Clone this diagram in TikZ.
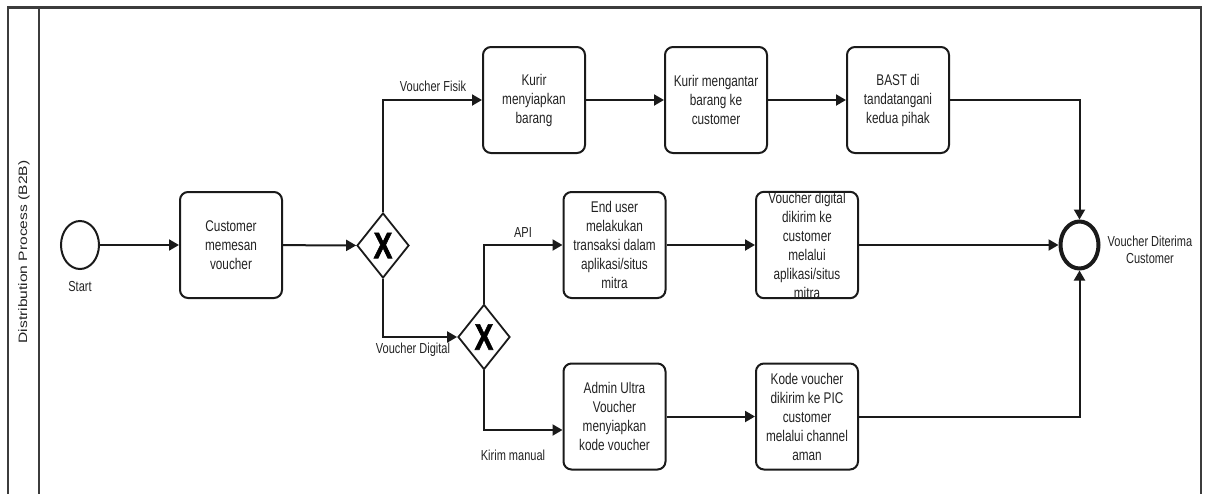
\documentclass[tikz,border=0pt]{standalone}
\usepackage{fontspec}
\setmainfont{Liberation Sans}
\newfontfamily\dfont[FakeStretch=0.76]{Liberation Sans}
\newfontfamily\dfontb[FakeStretch=0.76,FakeBold=1.5]{Liberation Sans Bold}
\usetikzlibrary{shapes.geometric,arrows.meta}
\definecolor{ink}{HTML}{1A1A1A}
\definecolor{txt}{HTML}{222222}
\tikzset{
  task/.style={draw=ink, line width=2pt, rounded corners=8pt, minimum width=102pt, minimum height=106pt, inner sep=0pt, align=center, text=txt, font=\dfont\fontsize{15.5}{19}\selectfont},
  gw/.style={draw=ink, line width=1.8pt, diamond, minimum width=52pt, minimum height=65pt, inner sep=0pt, font=\dfontb\fontsize{37}{37}\selectfont},
  startev/.style={draw=ink, line width=2pt, ellipse, minimum width=38pt, minimum height=48pt, inner sep=0pt},
  endev/.style={draw=ink, line width=4pt, ellipse, minimum width=38pt, minimum height=47pt, inner sep=0pt},
  lbl/.style={text=txt, font=\dfont\fontsize{14.5}{17}\selectfont, inner sep=0pt, align=center},
  arr/.style={draw=ink, line width=2pt, -{Triangle[length=10pt,width=11pt]}},
  frame/.style={draw=ink!85, line width=2.2pt}
}
\begin{document}
\begin{tikzpicture}[x=1pt,y=-1pt]
\useasboundingbox (0,0) rectangle (1208,493);
% pool frame
\draw[frame] (8,494) -- (8,7.5) -- (1201,7.5) -- (1201,494);
\draw[frame] (39,7.5) -- (39,494);
\node[rotate=90, text=txt, inner sep=0pt] (lane) at (24,252) {\scalebox{1}[0.78]{\fontsize{15.6}{18}\selectfont Distribution Process (B2B)}};

% events
\node[startev] (start) at (80,245) {};
\node[lbl] (startlbl) at (80,287) {Start};
\node[endev] (end) at (1079.5,245) {};
\node[lbl] (endlbl) at (1150,250) {Voucher Diterima\\Customer};

% tasks
\node[task] (cust) at (231,245) {Customer\\memesan\\voucher};
\node[task] (k1) at (534,100) {Kurir\\menyiapkan\\barang};
\node[task] (k2) at (716,100) {Kurir mengantar\\barang ke\\customer};
\node[task] (k3) at (898,100) {BAST di\\tandatangani\\kedua pihak};
\node[task] (eu) at (614.5,245) {End user\\melakukan\\transaksi dalam\\aplikasi/situs\\mitra};
\node[task] (vd) at (807,245) {Voucher digital\\dikirim ke\\customer\\melalui\\aplikasi/situs\\mitra};
\node[task] (adm) at (614.5,416.5) {Admin Ultra\\Voucher\\menyiapkan\\kode voucher};
\node[task] (kode) at (807,416.5) {Kode voucher\\dikirim ke PIC\\customer\\melalui channel\\aman};

% gateways
\node[gw] (g1) at (383,245.5) {X};
\node[gw] (g2) at (484,337) {X};

% flows
\draw[arr] (start) -- (cust);
\draw[arr] (cust) -- (g1);
\draw[arr] (g1.north) |- (k1.west);
\draw[arr] (k1) -- (k2);
\draw[arr] (k2) -- (k3);
\draw[arr] (k3.east) -| (end.north);
\draw[arr] (g1.south) |- (g2.west);
\draw[arr] (g2.north) |- (eu.west);
\draw[arr] (eu) -- (vd);
\draw[arr] (vd.east) -- (end.west);
\draw[arr] (g2.south) |- ([yshift=-13.5pt]adm.west);
\draw[arr] (adm) -- (kode);
\draw[arr] (kode.east) -| (end.south);

% flow labels
\node[lbl] (lfisik) at (433,86) {Voucher Fisik};
\node[lbl] (ldigital) at (413,350) {Voucher Digital};
\node[lbl] (lapi) at (523,233) {API};
\node[lbl] (lmanual) at (513,455) {Kirim manual};
\end{tikzpicture}
\end{document}
